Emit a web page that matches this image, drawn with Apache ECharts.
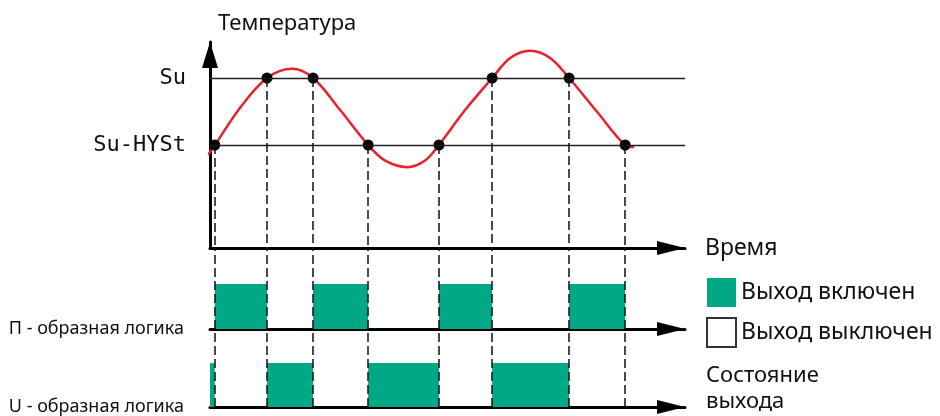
<!DOCTYPE html>
<html>
<head>
<meta charset="utf-8">
<script src="https://cdn.jsdelivr.net/npm/echarts@6/dist/echarts.min.js"></script>
<style>
  html, body { margin: 0; padding: 0; background: #fff; }
  #hysteresis-chart { width: 940px; height: 416px; }
</style>
</head>
<body>
<div id="hysteresis-chart"></div>
<script>
// temperature curve (time, temperature)
const curveTime = [-0.4, 1.05, 6.3, 12, 17.3, 21.7, 27.4, 33.3, 36.8, 41.5, 45.3, 48.2, 53.7, 59.4, 63.2, 67.4, 71.6, 75.6, 81.7, 87.4, 89.3];
const curveTemp = [18.1, 20, 27.2, 33, 34.8, 33, 26.8, 20, 17, 15.7, 17, 20, 26.8, 33, 36.9, 38.3, 36.9, 33, 26.2, 20, 19.6];

// switching points where the curve crosses Su / Su-HYSt
const switchTime = [1, 12, 21.7, 33.3, 48.2, 59.4, 75.6, 87.4];
const switchTemp = [20, 33, 33, 20, 20, 33, 33, 20];

// threshold levels and their tick labels
const levelValues = [20, 33];
const levelLabels = ['Su-HYSt', 'Su'];

// output on intervals [start, end]
const pLogicOn = [[1, 12], [21.7, 33.3], [48.2, 59.4], [75.6, 87.4]];
const uLogicOn = [[0, 1], [12, 21.7], [33.3, 48.2], [59.4, 75.6]];

const rowLabels = ['П - образная логика', 'U - образная логика'];
const legendNames = ['Выход включен', 'Выход выключен'];

const GREEN = '#00a886';
const FONT = '"Noto Sans", "Open Sans", sans-serif';

const myChart = echarts.init(document.getElementById('hysteresis-chart'));

function renderBar(params, api) {
  const p0 = api.coord([api.value(0), 1]);
  const p1 = api.coord([api.value(1), 0]);
  return {
    type: 'rect',
    shape: { x: p0[0], y: p0[1], width: p1[0] - p0[0], height: p1[1] - p0[1] },
    style: api.style()
  };
}

const arrowX = {
  show: true,
  symbol: ['none', 'triangle'],
  symbolSize: [14, 28],
  symbolOffset: [0, -14],
  lineStyle: { color: '#000', width: 3 }
};

const dashed = { color: '#111', width: 1.5, type: [9, 4] };

function rowYAxis(gridIndex, label) {
  return {
    type: 'value',
    gridIndex: gridIndex,
    min: 0,
    max: 1.8,
    interval: 1.8,
    axisLine: { show: false },
    axisTick: { show: false },
    splitLine: { show: false },
    axisLabel: {
      margin: 26,
      fontFamily: FONT,
      fontSize: 18,
      color: '#111',
      formatter: (v) => (v === 0 ? label : '')
    }
  };
}

function rowXAxis(gridIndex) {
  return {
    type: 'value',
    gridIndex: gridIndex,
    min: 0,
    max: 100,
    axisLine: arrowX,
    axisTick: { show: false },
    axisLabel: { show: false },
    splitLine: { show: false }
  };
}

const option = {
  animation: false,
  backgroundColor: '#fff',
  textStyle: { fontFamily: FONT },
  grid: [
    { left: 210, top: 42, width: 475, height: 206 },
    { left: 210, top: 248, width: 475, height: 81 },
    { left: 210, top: 328, width: 475, height: 81 }
  ],
  legend: {
    orient: 'vertical',
    left: 706,
    top: 278,
    padding: 0,
    itemWidth: 29,
    itemHeight: 29,
    itemGap: 10,
    selectedMode: false,
    textStyle: { fontFamily: FONT, fontSize: 23, color: '#111' },
    data: [
      { name: legendNames[0], icon: 'rect', itemStyle: { color: GREEN } },
      { name: legendNames[1], icon: 'rect', itemStyle: { color: '#fff', borderColor: '#333', borderWidth: 2 } }
    ]
  },
  xAxis: [
    {
      type: 'value',
      gridIndex: 0,
      min: 0,
      max: 100,
      name: 'Время',
      nameLocation: 'end',
      nameGap: 20,
      nameTextStyle: { fontFamily: FONT, fontSize: 23, color: '#111', padding: [0, 0, 4, 0] },
      axisLine: arrowX,
      axisTick: { show: false },
      axisLabel: { show: false },
      splitLine: { show: false }
    },
    rowXAxis(1),
    rowXAxis(2)
  ],
  yAxis: [
    {
      type: 'value',
      gridIndex: 0,
      min: 0,
      max: 40,
      interval: 1,
      name: 'Температура',
      nameLocation: 'end',
      nameGap: 7,
      nameTextStyle: { fontFamily: FONT, fontSize: 22, color: '#111', align: 'left', padding: [0, 0, 0, 8] },
      axisLine: {
        show: true,
        symbol: ['none', 'triangle'],
        symbolSize: [16, 26],
        symbolOffset: [0, -13],
        lineStyle: { color: '#000', width: 3 }
      },
      axisTick: { show: false },
      splitLine: { show: false },
      axisLabel: {
        margin: 24,
        fontFamily: '"DejaVu Sans Mono", monospace',
        fontSize: 22,
        color: '#111',
        formatter: (v) => {
          const i = levelValues.indexOf(v);
          return i >= 0 ? levelLabels[i] : '';
        }
      }
    },
    rowYAxis(1, rowLabels[0]),
    rowYAxis(2, rowLabels[1])
  ],
  graphic: [
    {
      type: 'text',
      left: 706,
      top: 363,
      style: {
        text: 'Состояние\nвыхода',
        font: '22px ' + FONT,
        lineHeight: 26,
        fill: '#111'
      }
    }
  ],
  series: [
    {
      name: 'levels',
      type: 'line',
      xAxisIndex: 0,
      yAxisIndex: 0,
      data: [],
      markLine: {
        silent: true,
        symbol: 'none',
        label: { show: false },
        lineStyle: { color: '#222', width: 1.3, type: 'solid' },
        data: levelValues.map((v) => ({ yAxis: v }))
      }
    },
    {
      name: 'drops',
      type: 'line',
      xAxisIndex: 0,
      yAxisIndex: 0,
      data: [],
      markLine: {
        silent: true,
        symbol: 'none',
        label: { show: false },
        lineStyle: dashed,
        data: switchTime.map((t, i) => [{ coord: [t, switchTemp[i]] }, { coord: [t, 0] }])
      }
    },
    {
      name: 'Температура',
      type: 'line',
      xAxisIndex: 0,
      yAxisIndex: 0,
      smooth: 0.35,
      clip: false,
      showSymbol: false,
      lineStyle: { color: '#e8212b', width: 2.5 },
      data: curveTime.map((t, i) => [t, curveTemp[i]]),
      z: 3
    },
    {
      name: 'switch',
      type: 'scatter',
      xAxisIndex: 0,
      yAxisIndex: 0,
      symbolSize: 11,
      itemStyle: { color: '#000', opacity: 1 },
      data: switchTime.map((t, i) => [t, switchTemp[i]]),
      z: 4
    },
    {
      name: legendNames[0],
      type: 'custom',
      xAxisIndex: 1,
      yAxisIndex: 1,
      renderItem: renderBar,
      encode: { x: [0, 1] },
      itemStyle: { color: GREEN },
      data: pLogicOn,
      markLine: {
        silent: true,
        symbol: 'none',
        label: { show: false },
        lineStyle: dashed,
        data: switchTime.map((t) => ({ xAxis: t }))
      }
    },
    {
      name: legendNames[0],
      type: 'custom',
      xAxisIndex: 2,
      yAxisIndex: 2,
      renderItem: renderBar,
      encode: { x: [0, 1] },
      itemStyle: { color: GREEN },
      data: uLogicOn,
      markLine: {
        silent: true,
        symbol: 'none',
        label: { show: false },
        lineStyle: dashed,
        data: switchTime.map((t) => ({ xAxis: t }))
      }
    },
    {
      name: legendNames[1],
      type: 'custom',
      xAxisIndex: 2,
      yAxisIndex: 2,
      renderItem: renderBar,
      itemStyle: { color: '#fff', borderColor: '#333', borderWidth: 2 },
      data: []
    }
  ]
};

myChart.setOption(option);
</script>
</body>
</html>
